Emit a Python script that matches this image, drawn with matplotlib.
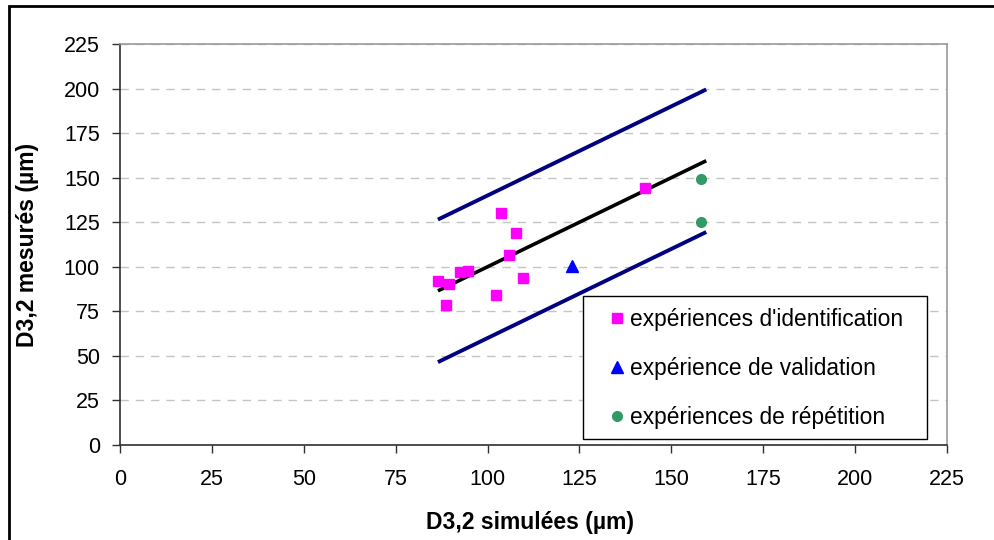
import matplotlib
matplotlib.use("Agg")
import matplotlib.pyplot as plt
from matplotlib.patches import Rectangle

plt.rcParams["font.family"] = ["Liberation Sans", "DejaVu Sans"]

# expériences d'identification
ident_x = [86.6, 88.6, 89.6, 92.4, 94.6, 102.3, 103.7, 105.7, 107.7, 109.6, 142.9]
ident_y = [92.2, 78.6, 90.2, 96.9, 97.9, 84.4, 129.9, 106.5, 119.2, 93.9, 144.2]
# expérience de validation
valid_x = [123.1]
valid_y = [100.7]
# expériences de répétition
repet_x = [158.2, 158.2]
repet_y = [149.2, 125.0]
# droite y = x et bornes +/- 40
line_x = [86.5, 159.5]
ecart = 40

ticks = list(range(0, 226, 25))

fig = plt.figure(figsize=(9.94, 5.4), dpi=100)
ax = fig.add_axes([120 / 994, 95 / 540, 827 / 994, 401 / 540])

up = [v + ecart for v in line_x]
low = [v - ecart for v in line_x]
ax.plot(line_x, up, color="#000080", lw=2.8, solid_capstyle="butt", zorder=3)
ax.plot(line_x, low, color="#000080", lw=2.8, solid_capstyle="butt", zorder=3)
ax.plot(line_x, line_x, color="black", lw=2.6, solid_capstyle="butt", zorder=3)

ax.plot(ident_x, ident_y, ls="none", marker="s", ms=7.2, color="#FF00FF",
        mec="#FF00FF", label="expériences d'identification", zorder=4)
ax.plot(valid_x, valid_y, ls="none", marker="^", ms=8, color="#0000FF",
        mec="#0000FF", label="expérience de validation", zorder=4)
ax.plot(repet_x, repet_y, ls="none", marker="o", ms=7, color="#339966",
        mec="#339966", label="expériences de répétition", zorder=4)

ax.set_xlim(0, 225)
ax.set_ylim(0, 225)
ax.set_xticks(ticks)
ax.set_yticks(ticks)
ax.tick_params(direction="out", length=6, width=1, labelsize=15.5, color="#303030")
ax.tick_params(axis="y", pad=8.5)
ax.tick_params(axis="x", pad=11)
ax.yaxis.grid(True, color="#C4C4C4", ls=(0, (6, 5)), lw=1)
ax.set_axisbelow(True)

for side in ["top", "right"]:
    ax.spines[side].set_color("#999999")
    ax.spines[side].set_linewidth(1.2)
for side in ["left", "bottom"]:
    ax.spines[side].set_color("#303030")
    ax.spines[side].set_linewidth(1.2)

fig.text(530 / 994, 1 - 522 / 540, "D3,2 simulées (µm)", ha="center", va="center",
         fontsize=16.5, fontweight="bold")
fig.text(28 / 994, 1 - 245 / 540, "D3,2 mesurés (µm)", ha="center", va="center",
         rotation=90, fontsize=16.5, fontweight="bold")

# légende sans cadre, le cadre est dessiné à part
leg = fig.legend(loc="center left", bbox_to_anchor=(611 / 994, 1 - 368.5 / 540),
                 frameon=False, fontsize=16.4, borderpad=0, borderaxespad=0,
                 handlelength=0.5, handletextpad=0.35, labelspacing=1.15)
fig.patches.append(Rectangle((583 / 994, 101 / 540), 344 / 994, 143 / 540,
                             transform=fig.transFigure, facecolor="white",
                             edgecolor="black", lw=1, zorder=5))
leg.set_zorder(6)

# cadre du graphique
fig.patches.append(Rectangle((9 / 994, -0.1), 1.2, 1 - 6 / 540 + 0.1, transform=fig.transFigure,
                             fill=False, edgecolor="black", lw=2))

fig.savefig("out.png", dpi=100)
